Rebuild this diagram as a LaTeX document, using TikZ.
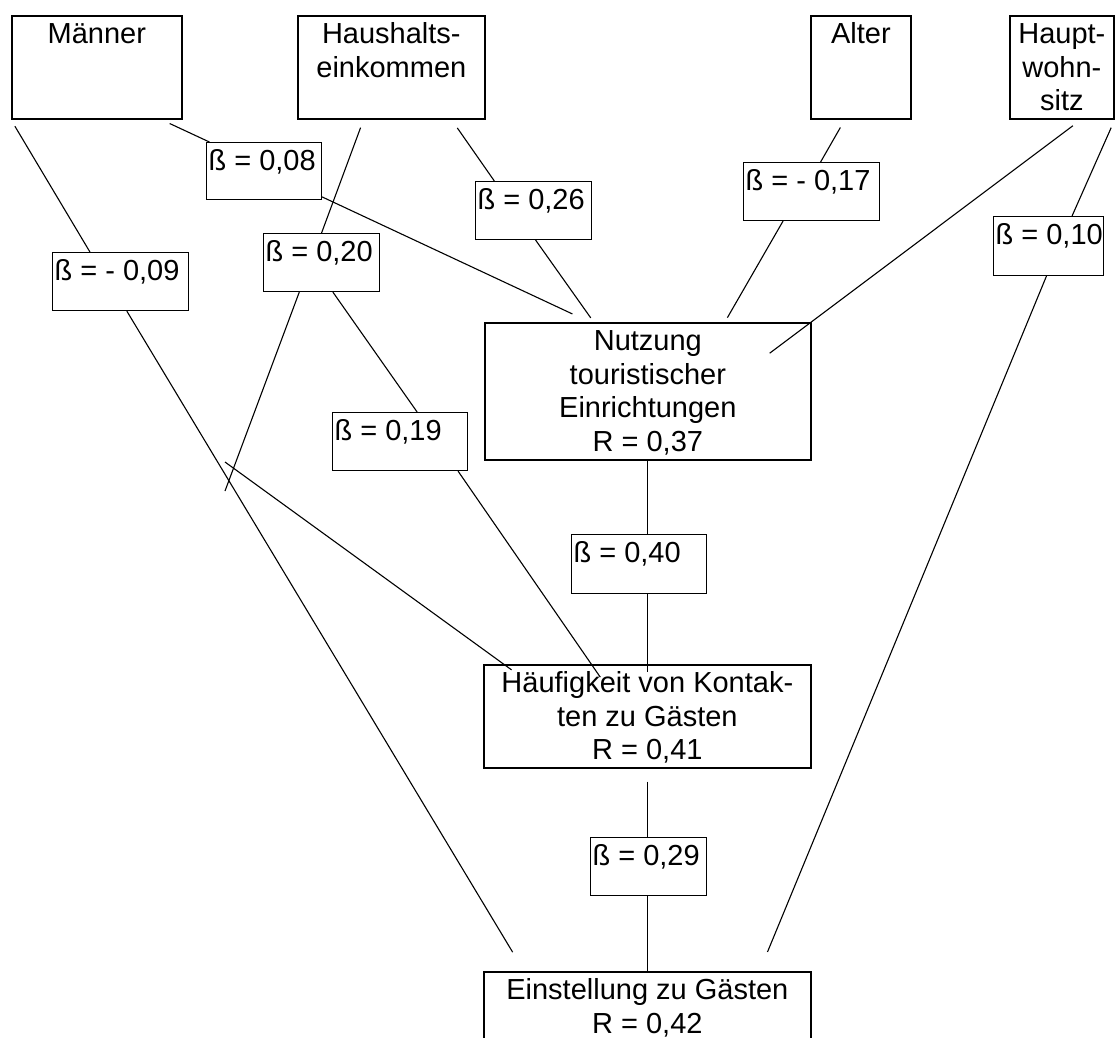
\documentclass[tikz,border=0pt]{standalone}
\usepackage{fontspec}
\setmainfont{Liberation Sans}

% box with text on top: width, height, text
\newcommand{\boxtext}[3]{\parbox[t][#2][t]{#1}{\centering\rule{0pt}{28pt}#3}}
\newcommand{\betatext}[3]{\parbox[t][#2][t]{#1}{\rule{0pt}{28pt}\hspace{2pt}#3}}

\begin{document}
\begin{tikzpicture}[x=1pt, y=-1pt, font=\fontsize{29}{33.5}\selectfont,
    main node/.style={draw, line width=1.7pt, anchor=north west, inner sep=0pt},
    beta node/.style={draw, line width=1.1pt, anchor=north west, inner sep=0pt}]
        \useasboundingbox (0,0) rectangle (1115,1037);
        \clip (0,0) rectangle (1115,1037);

        \node[main node] (maenner) at (11,15) {\boxtext{170pt}{103pt}{Männer}};
        \node[main node] (haushalt) at (297,15) {\boxtext{187pt}{103pt}{Haushalts-\\einkommen}};
        \node[main node] (alter) at (810,15) {\boxtext{100pt}{103pt}{Alter}};
        \node[main node] (wohnsitz) at (1009,15) {\boxtext{104pt}{103pt}{Haupt-\\wohn-\\sitz}};
        \node[main node] (nutzung) at (484,322) {\boxtext{326pt}{137pt}{Nutzung\\touristischer\\Einrichtungen\\R = 0,37}};
        \node[main node] (haeufig) at (483,664) {\boxtext{327pt}{103pt}{Häufigkeit von Kontak-\\ten zu Gästen\\R = 0,41}};
        \node[main node] (einst) at (483,971) {\boxtext{327pt}{103pt}{Einstellung zu Gästen\\R = 0,42}};

        \node[beta node] (b08) at (206,142) {\betatext{115pt}{57pt}{ß = 0,08}};
        \node[beta node] (b09) at (52,252) {\betatext{136pt}{58pt}{ß = - 0,09}};
        \node[beta node] (b20) at (263,233) {\betatext{116pt}{58pt}{ß = 0,20}};
        \node[beta node] (b26) at (475,181) {\betatext{116pt}{58pt}{ß = 0,26}};
        \node[beta node] (b17) at (743,162) {\betatext{136pt}{58pt}{ß = - 0,17}};
        \node[beta node] (b10) at (993,216) {\betatext{110pt}{59pt}{ß = 0,10}};
        \node[beta node] (b19) at (332,412) {\betatext{135pt}{58pt}{ß = 0,19}};
        \node[beta node] (b40) at (571,534) {\betatext{135pt}{59pt}{ß = 0,40}};
        \node[beta node] (b29) at (590,837) {\betatext{116pt}{58pt}{ß = 0,29}};

        \coordinate (ende1) at (225,491);
        \coordinate (start2) at (225,462);

        \path[every edge/.style={draw, line width=1.1pt}]
        (maenner.south west) edge[shorten <=7.6pt] (b09.136)
        (b09.-78) edge[shorten >=22pt] (einst.157)
        (maenner.-39) edge[shorten <=9pt] (b08.152)
        (b08.-24) edge[shorten >=19pt] (nutzung.130)
        (haushalt.-118) edge[shorten <=8.5pt] (b20.north)
        (b20.-127) edge (ende1)
        (b20.-69) edge (b19.60)
        (b19.-27) edge[shorten >=-16pt] (haeufig.137)
        (start2) edge[shorten >=-10pt] (haeufig.160)
        (haushalt.-41) edge[shorten <=10pt] (b26.143)
        (b26.-86) edge[shorten >=5pt] (nutzung.128)
        (alter.-107) edge[shorten <=9pt] (b17.73)
        (b17.-134) edge[shorten >=5pt] (nutzung.42)
        (wohnsitz.-70) edge[shorten <=10pt, shorten >=-52pt] (nutzung.23)
        (wohnsitz.south east) edge[shorten <=8.7pt] (b10.52)
        (b10.-94) edge[shorten >=20.6pt] (einst.25)
        (nutzung.south) edge (nutzung.south |- b40.north)
        (haeufig.north |- b40.south) edge[shorten >=-8pt] (haeufig.north)
        (haeufig.south) edge[shorten <=13pt] (haeufig.south |- b29.north)
        (haeufig.south |- b29.south) edge[shorten >=-2pt] (einst.north);

    \end{tikzpicture}
\end{document}
